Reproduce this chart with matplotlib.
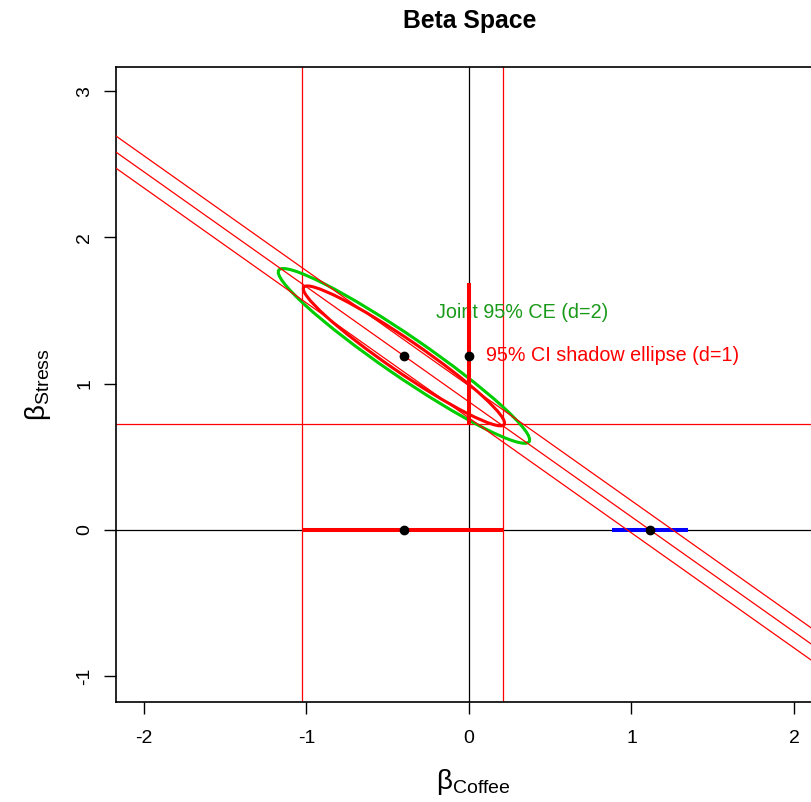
"""Beta space: joint confidence ellipse and its 1-d shadow for coffee/stress betas."""
import matplotlib

matplotlib.use("Agg")
import matplotlib.pyplot as plt  # noqa: E402
import numpy as np  # noqa: E402
from matplotlib.patches import Ellipse  # noqa: E402

plt.rcParams["font.family"] = ["Liberation Sans", "DejaVu Sans"]
plt.rcParams["mathtext.fontset"] = "custom"
plt.rcParams["mathtext.rm"] = "Liberation Sans"
plt.rcParams["mathtext.it"] = "Liberation Sans:italic"

# estimates
beta_hat = [-0.40, 1.19]          # (coffee, stress)
beta_sd = [0.316, 0.244]          # standard errors
beta_corr = -0.96
ellipse_radius = {"d=2": 2.448, "d=1": 1.96}

coffee_ci = [-1.03, 0.21]
stress_ci = [0.725, 1.69]
coffee_marginal = 1.114
coffee_marginal_ci = [0.88, 1.35]

diag_slope = -0.786
diag_intercepts = [0.766, 0.876, 0.986]

xticks = [-2, -1, 0, 1, 2]
yticks = [-1, 0, 1, 2, 3]

RED = "#ff0000"
GREEN = "#00cd00"
GREEN_TXT = "#1a9a1a"
BLUE = "#0000ff"


def cov_ellipse(center, sd, r, radius, **kw):
    cov = np.array([[sd[0] ** 2, r * sd[0] * sd[1]],
                    [r * sd[0] * sd[1], sd[1] ** 2]])
    vals, vecs = np.linalg.eigh(cov)
    angle = np.degrees(np.arctan2(vecs[1, 1], vecs[0, 1]))
    return Ellipse(center, 2 * radius * np.sqrt(vals[1]),
                   2 * radius * np.sqrt(vals[0]), angle=angle,
                   fill=False, **kw)


fig = plt.figure(figsize=(8.12, 8.02), dpi=100)
ax = fig.add_axes([116 / 812, 1 - 702 / 802, 708 / 812, 635 / 802])
ax.set_xlim(-2.172, 2.185)
ax.set_ylim(-1.176, 3.165)

# reference axes and CI guide lines
ax.axvline(0, color="black", lw=0.9, zorder=1)
ax.axhline(0, color="black", lw=0.9, zorder=1)
for x in coffee_ci:
    ax.axvline(x, color=RED, lw=0.9, zorder=1)
ax.axhline(stress_ci[0], color=RED, lw=0.9, zorder=1)

# ellipses
ax.add_patch(cov_ellipse(beta_hat, beta_sd, beta_corr, ellipse_radius["d=2"],
                         edgecolor=GREEN, lw=2.2, zorder=2))
ax.add_patch(cov_ellipse(beta_hat, beta_sd, beta_corr, ellipse_radius["d=1"],
                         edgecolor=RED, lw=2.2, zorder=3))

# marginal coffee interval
ax.plot(coffee_marginal_ci, [0, 0], color=BLUE, lw=2.9,
        solid_capstyle="butt", zorder=3)

# parallel lines
for b in diag_intercepts:
    ax.axline((0, b), slope=diag_slope, color=RED, lw=0.9, zorder=4)

# shadows (1-d CIs)
ax.plot(coffee_ci, [0, 0], color=RED, lw=2.9, solid_capstyle="butt", zorder=5)
ax.plot([0, 0], stress_ci, color=RED, lw=2.9, solid_capstyle="butt", zorder=5)

# points
ax.plot([beta_hat[0], 0, beta_hat[0], coffee_marginal],
        [beta_hat[1], beta_hat[1], 0, 0], "o", color="black", ms=6,
        zorder=6)

ax.text(-0.2, 1.485, "Joint 95% CE (d=2)", color=GREEN_TXT, fontsize=14.2,
        va="center", ha="left")
ax.text(0.105, 1.19, "95% CI shadow ellipse (d=1)", color=RED, fontsize=14.2,
        va="center", ha="left")

ax.set_xticks(xticks)
ax.set_yticks(yticks)
ax.set_xticklabels([str(t) for t in xticks])
ax.set_yticklabels([str(t) for t in yticks], rotation=90, va="center")
ax.tick_params(axis="both", labelsize=14, length=8.5, width=1,
               direction="out", color="black")
ax.tick_params(axis="x", pad=12)
ax.tick_params(axis="y", pad=8)
for side in ["top", "bottom", "left", "right"]:
    ax.spines[side].set_linewidth(1.2)

ax.set_xlabel(r"$\mathrm{\beta}_{\mathrm{Coffee}}$", fontsize=20)
ax.set_ylabel(r"$\mathrm{\beta}_{\mathrm{Stress}}$", fontsize=20)
ax.xaxis.set_label_coords((473 - 116) / 708, -(782 - 702) / 635)
ax.xaxis.label.set_va("center")
ax.yaxis.set_label_coords(-(116 - 38) / 708, 0.5)
ax.yaxis.label.set_va("center")

ax.set_title("Beta Space", fontsize=17.8, fontweight="bold", pad=28)

fig.savefig("out.png", dpi=100)
plt.close(fig)
